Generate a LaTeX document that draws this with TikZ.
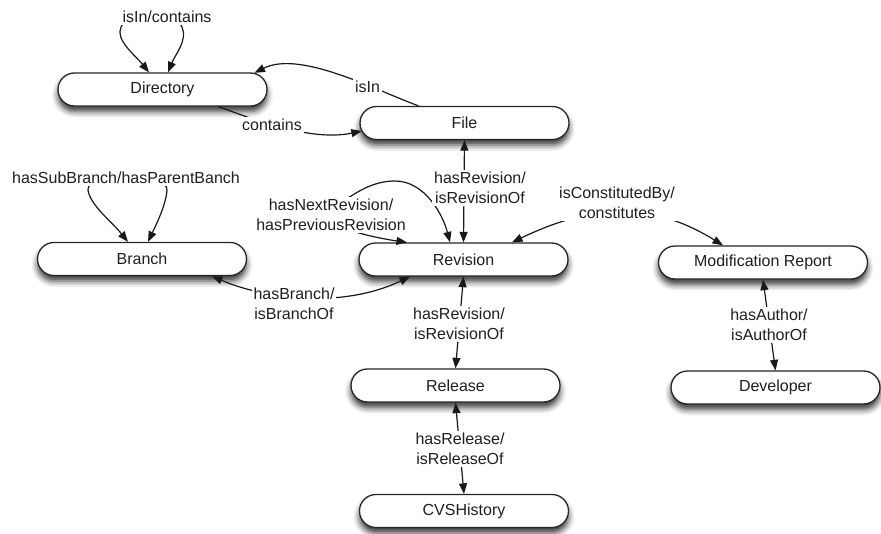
\documentclass[tikz,border=0pt]{standalone}
\usepackage{fontspec}
\setmainfont{Liberation Sans}
\usetikzlibrary{shapes.misc,arrows.meta,calc,shadows.blur}
\begin{document}
\begin{tikzpicture}[x=1pt,y=-1pt,
  >={Triangle[length=10.5pt,width=8pt]},
  ent/.style={rounded rectangle, draw=black!85, line width=1.3pt, fill=white,
    minimum width=209pt, minimum height=33pt, inner sep=0pt,
    font=\fontsize{16}{19.5}\selectfont, text=black!88,
    blur shadow={shadow xshift=0pt, shadow yshift=-5.5pt, shadow blur radius=6pt, shadow opacity=80}},
  lbl/.style={fill=white, inner sep=2pt, align=center,
    font=\fontsize{16}{19.5}\selectfont, text=black!88},
  rel/.style={draw=black!90, line width=1.2pt, <->},
  arr/.style={draw=black!90, line width=1.2pt, ->}]
\useasboundingbox (0,0) rectangle (881,533);

% entities
\node[ent] (dir) at (162.5,89.5) {Directory};
\node[ent] (file) at (464.5,123) {File};
\node[ent] (branch) at (142,259) {Branch};
\node[ent] (rev) at (463.5,259.5) {Revision};
\node[ent] (mod) at (763,262.5) {Modification Report};
\node[ent] (release) at (455.5,385.5) {Release};
\node[ent] (dev) at (775.5,387.5) {Developer};
\node[ent] (cvs) at (464,511) {CVSHistory};

% connectors
\draw[rel] ($(dir.north)+(-13.5,0)$) .. controls (135,55) and (115,40) .. (121,27)
  .. controls (125,15) and (178,15) .. (182,27)
  .. controls (188,40) and (175,55) .. ($(dir.north)+(5.5,0)$);
\draw[arr] ($(file.north)+(-46,0)$) .. controls (375,90) and (300,50) .. ($(dir.north)+(92,0.5)$);
\draw[arr] ($(dir.south)+(56,0)$) .. controls (250,118) and (310,142) .. ($(file.west)+(2.5,8)$);
\draw[rel] ($(branch.north)+(-14,0)$) .. controls (112,222) and (90,205) .. (88,190)
  .. controls (86,172) and (168,172) .. (167,190)
  .. controls (166,205) and (156,225) .. ($(branch.north)+(6,0)$);
\draw[rel] ($(branch.south)+(70,0)$) .. controls (255,295) and (335,312) .. ($(rev.south)+(-53.5,0)$);
\draw[rel] ($(rev.north)+(-56.5,0)$) .. controls (390,240) and (360,235) .. (345,228)
  -- (345,200) .. controls (360,190) and (375,181) .. (395,181)
  .. controls (425,181) and (443,215) .. ($(rev.north)+(-13.5,0)$);
\draw[rel] (file.south) -- (rev.north);
\draw[rel] ($(rev.north)+(48.5,0)$) .. controls (590,205) and (650,200) .. ($(mod.north)+(-40,0)$);
\draw[rel] (rev.south) -- (release.north);
\draw[rel] (release.south) -- (cvs.north);
\draw[rel] (mod.south) -- (dev.north);

% labels
\node[lbl] (l1) at (167,17) {isIn/contains};
\node[lbl] (l2) at (367.5,87) {isIn};
\node[lbl] (l3) at (272,125) {contains};
\node[lbl] (l4) at (126,178) {hasSubBranch/hasParentBanch};
\node[lbl] (l5) at (480,188) {hasRevision/\\isRevisionOf};
\node[lbl] (l6) at (331,215) {hasNextRevision/\\hasPreviousRevision};
\node[lbl] (l7) at (617,203) {isConstitutedBy/\\constitutes};
\node[lbl] (l8) at (294,304) {hasBranch/\\isBranchOf};
\node[lbl] (l9) at (459,324) {hasRevision/\\isRevisionOf};
\node[lbl] (l10) at (769,325) {hasAuthor/\\isAuthorOf};
\node[lbl] (l11) at (460,449) {hasRelease/\\isReleaseOf};
\end{tikzpicture}
\end{document}
